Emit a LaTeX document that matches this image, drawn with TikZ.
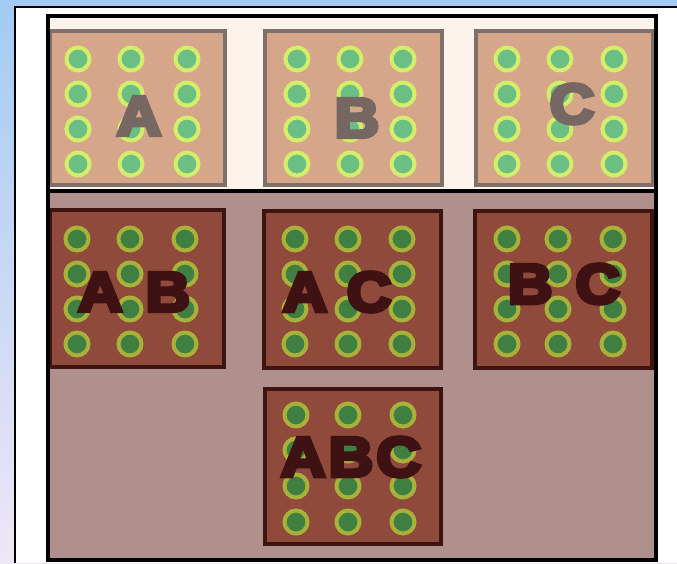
\documentclass[tikz,border=0pt]{standalone}
\usepackage{graphicx}
\usepackage{fontspec}
\newfontfamily\heavy[FakeBold=7]{Liberation Sans Bold}
\newcommand\widetext[1]{\scalebox{1.1}[1]{#1}}
\definecolor{bgtop}{HTML}{A3CBF3}
\definecolor{bgbot}{HTML}{EFE6F6}
\definecolor{topbg}{HTML}{FCF3EC}
\definecolor{botbg}{HTML}{B0908D}
\definecolor{tanbox}{HTML}{D6A68B}
\definecolor{tanline}{HTML}{7F706B}
\definecolor{brownbox}{HTML}{8F4A3C}
\definecolor{brownline}{HTML}{3D1410}
\definecolor{lgreen}{HTML}{6CBF84}
\definecolor{lring}{HTML}{D4EE6A}
\definecolor{dgreen}{HTML}{3F7F42}
\definecolor{dring}{HTML}{A8B23A}
\definecolor{greytext}{HTML}{766763}
\definecolor{darktext}{HTML}{3E1212}
\begin{document}
\begin{tikzpicture}[x=1pt,y=-1pt,
  tanrect/.style={draw=tanline,line width=3.5pt,fill=tanbox},
  brownrect/.style={draw=brownline,line width=3.5pt,fill=brownbox},
  ldot/.style={draw=lring,line width=4pt,fill=lgreen},
  ddot/.style={draw=dring,line width=4pt,fill=dgreen},
  toplabel/.style={font=\heavy\fontsize{56}{56}\selectfont,text=greytext,inner sep=0pt},
  botlabel/.style={font=\heavy\fontsize{56}{56}\selectfont,text=darktext,inner sep=0pt}]
\useasboundingbox (0,0) rectangle (677,563);
% page background
\shade[top color=bgtop,bottom color=bgbot] (0,0) rectangle (677,563);
\fill[white] (15,7) rectangle (677,563);
\draw[black,line width=2pt] (15,563) -- (15,7) -- (677,7);
% regions
\fill[topbg] (47.5,15.5) rectangle (655.5,191);
\fill[botbg] (47.5,191) rectangle (655.5,560);
% top boxes
\draw[tanrect] (50,31) rectangle (225,185);
\draw[tanrect] (265,31) rectangle (442,185);
\draw[tanrect] (476,31) rectangle (653,185);
% bottom boxes
\draw[brownrect] (50,210) rectangle (224,367);
\draw[brownrect] (264,211) rectangle (441,368);
\draw[brownrect] (475,211) rectangle (652,368);
\draw[brownrect] (265,389) rectangle (441,544);
% dots
\foreach \cx in {78,131,187,297,350,403,507,560,614}
  \foreach \ry in {59,94,129,164}
    \draw[ldot] (\cx,\ry) circle (11.5);
\foreach \cx in {77,130,185,295,348,402,507,558,613}
  \foreach \ry in {239,274,309,344}
    \draw[ddot] (\cx,\ry) circle (11.5);
\foreach \cx in {296,348,403}
  \foreach \ry in {415,450,486,522}
    \draw[ddot] (\cx,\ry) circle (11.5);
% frame
\draw[black,line width=4pt] (47.5,15.5) rectangle (655.5,560);
\draw[black,line width=4pt] (47.5,191) -- (655.5,191);
% labels
\node[toplabel] (la) at (139,116) {\widetext{A}};
\node[toplabel] (lb) at (357,118) {\widetext{B}};
\node[toplabel] (lc) at (572,104) {\widetext{C}};
\node[botlabel] (lab) at (134,292) {\widetext{A\kern21pt B}};
\node[botlabel] (lac) at (337,292) {\widetext{A\kern18pt C}};
\node[botlabel] (lbc) at (564,284) {\widetext{B\kern21pt C}};
\node[botlabel] (labc) at (351,457) {\widetext{A\kern3pt B\kern3pt C}};
\end{tikzpicture}
\end{document}
